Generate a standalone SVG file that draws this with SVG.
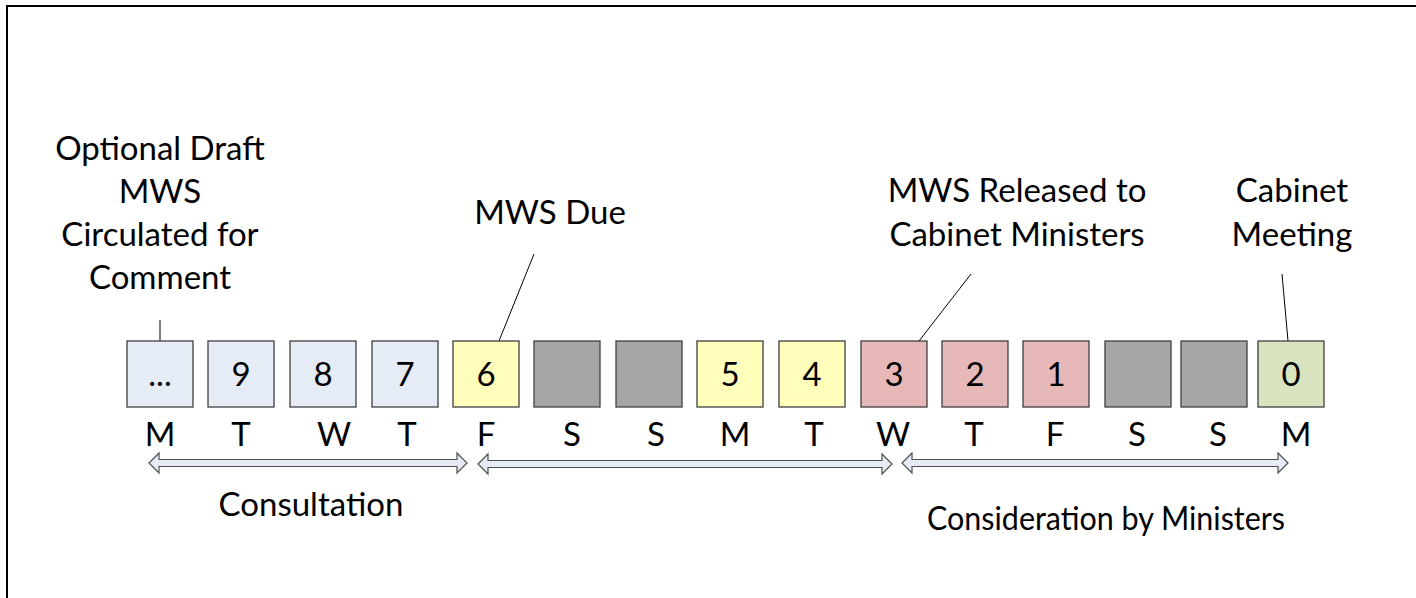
<svg xmlns="http://www.w3.org/2000/svg" width="1416" height="598" viewBox="0 0 1416 598">
<style>
text{font-family:Lato,"Liberation Sans",sans-serif;font-size:33px;fill:#000;text-anchor:middle}
.box{stroke:#3f3f3f;stroke-width:1.3}
.blue{fill:#e6ecf6}.yel{fill:#ffffbb}.gray{fill:#a6a6a6}.pink{fill:#e6b9b8}.green{fill:#d8e4bf}
.lead{stroke:#000;stroke-width:1;fill:none}
.arr{fill:#e6ecf6;stroke:#505050;stroke-width:1.2}
</style>
<rect x="7" y="6" width="1430" height="610" fill="#fff" stroke="#000" stroke-width="2"/>
<g id="labels">
<text x="160" y="160">Optional Draft</text>
<text x="160" y="203">MWS</text>
<text x="160" y="246">Circulated for</text>
<text x="160" y="289">Comment</text>
<text x="550" y="224">MWS Due</text>
<text x="1017" y="202">MWS Released to</text>
<text x="1017" y="246">Cabinet Ministers</text>
<text x="1292" y="202">Cabinet</text>
<text x="1292" y="246">Meeting</text>
</g>
<g id="connectors">
<line class="lead" x1="160" y1="320" x2="160" y2="341"/>
<line class="lead" x1="534" y1="254" x2="499" y2="341"/>
<line class="lead" x1="971" y1="274" x2="919" y2="341"/>
<line class="lead" x1="1282" y1="274" x2="1288" y2="341"/>
</g>
<g id="d-dots"><rect class="box blue" x="127" y="341" width="66" height="66"/><text x="160" y="386">...</text></g>
<g id="d9"><rect class="box blue" x="208" y="341" width="66" height="66"/><text x="241" y="386">9</text></g>
<g id="d8"><rect class="box blue" x="290" y="341" width="66" height="66"/><text x="323" y="386">8</text></g>
<g id="d7"><rect class="box blue" x="372" y="341" width="66" height="66"/><text x="405" y="386">7</text></g>
<g id="d6"><rect class="box yel" x="453" y="341" width="66" height="66"/><text x="486" y="386">6</text></g>
<g id="sat1"><rect class="box gray" x="534" y="341" width="66" height="66"/></g>
<g id="sun1"><rect class="box gray" x="616" y="341" width="66" height="66"/></g>
<g id="d5"><rect class="box yel" x="697" y="341" width="66" height="66"/><text x="730" y="386">5</text></g>
<g id="d4"><rect class="box yel" x="779" y="341" width="66" height="66"/><text x="812" y="386">4</text></g>
<g id="d3"><rect class="box pink" x="861" y="341" width="66" height="66"/><text x="894" y="386">3</text></g>
<g id="d2"><rect class="box pink" x="942" y="341" width="66" height="66"/><text x="975" y="386">2</text></g>
<g id="d1"><rect class="box pink" x="1023" y="341" width="66" height="66"/><text x="1056" y="386">1</text></g>
<g id="sat2"><rect class="box gray" x="1105" y="341" width="66" height="66"/></g>
<g id="sun2"><rect class="box gray" x="1181" y="341" width="66" height="66"/></g>
<g id="d0"><rect class="box green" x="1258" y="341" width="66" height="66"/><text x="1291" y="386">0</text></g>
<g id="days">
<text x="160" y="446">M</text>
<text x="241" y="446">T</text>
<text x="334" y="446">W</text>
<text x="407" y="446">T</text>
<text x="486" y="446">F</text>
<text x="572" y="446">S</text>
<text x="656" y="446">S</text>
<text x="735" y="446">M</text>
<text x="814" y="446">T</text>
<text x="893" y="446">W</text>
<text x="974" y="446">T</text>
<text x="1055" y="446">F</text>
<text x="1137" y="446">S</text>
<text x="1218" y="446">S</text>
<text x="1296" y="446">M</text>
</g>
<g id="spans">
<path class="arr" d="M149,463 L159,453 L159,459.5 L457,459.5 L457,453 L467,463 L457,473 L457,466.5 L159,466.5 L159,473 Z"/>
<path class="arr" d="M478,464 L488,454 L488,460.5 L882,460.5 L882,454 L892,464 L882,474 L882,467.5 L488,467.5 L488,474 Z"/>
<path class="arr" d="M902,463 L912,453 L912,459.5 L1278,459.5 L1278,453 L1288,463 L1278,473 L1278,466.5 L912,466.5 L912,473 Z"/>
<text x="311" y="516">Consultation</text>
<text x="1106" y="530" textLength="358" lengthAdjust="spacingAndGlyphs">Consideration by Ministers</text>
</g>
</svg>
